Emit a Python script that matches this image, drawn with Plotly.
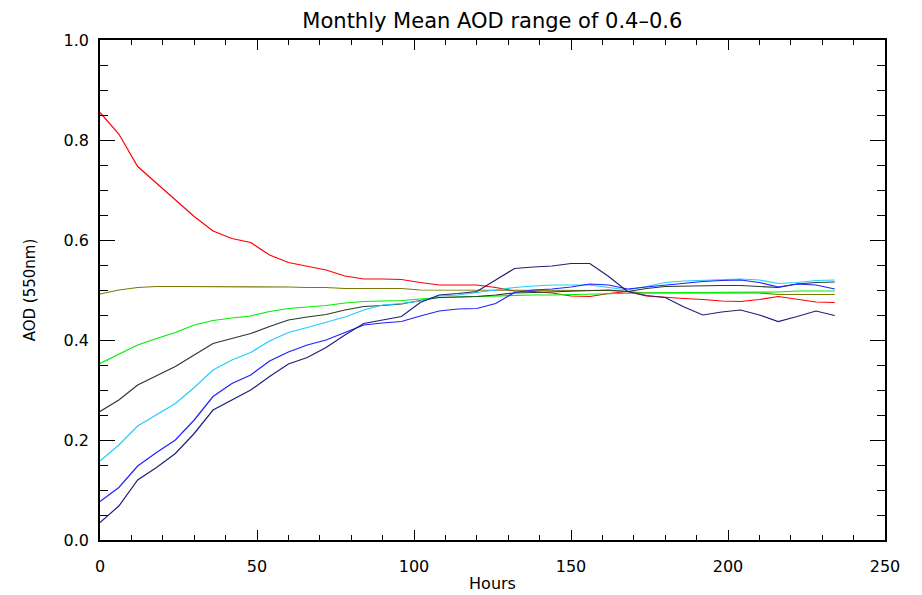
import plotly.graph_objects as go

hours = list(range(0, 240, 6))

red = [0.855, 0.812, 0.747, 0.713, 0.680, 0.647, 0.618, 0.603, 0.595, 0.570,
       0.555, 0.547, 0.540, 0.528, 0.522, 0.522, 0.521, 0.515, 0.510, 0.510,
       0.510, 0.505, 0.498, 0.497, 0.494, 0.488, 0.487, 0.493, 0.497, 0.488,
       0.485, 0.483, 0.481, 0.478, 0.477, 0.481, 0.487, 0.481, 0.476, 0.475]
olive = [0.492, 0.500, 0.505, 0.507, 0.507, 0.507, 0.507, 0.507, 0.507, 0.507,
         0.506, 0.505, 0.505, 0.503, 0.503, 0.503, 0.503, 0.500, 0.500, 0.500,
         0.500, 0.500, 0.499, 0.499, 0.499, 0.499, 0.499, 0.499, 0.497, 0.494,
         0.494, 0.494, 0.494, 0.494, 0.494, 0.494, 0.491, 0.491, 0.491, 0.491]
green = [0.353, 0.372, 0.390, 0.403, 0.415, 0.430, 0.439, 0.444, 0.448, 0.457,
         0.463, 0.466, 0.469, 0.474, 0.477, 0.478, 0.479, 0.482, 0.485, 0.486,
         0.487, 0.488, 0.490, 0.490, 0.490, 0.491, 0.492, 0.493, 0.494, 0.495,
         0.495, 0.495, 0.495, 0.495, 0.495, 0.495, 0.496, 0.498, 0.498, 0.498]
dark = [0.257, 0.280, 0.310, 0.328, 0.347, 0.370, 0.393, 0.403, 0.413, 0.427,
        0.440, 0.446, 0.451, 0.460, 0.467, 0.469, 0.472, 0.479, 0.485, 0.486,
        0.487, 0.490, 0.494, 0.495, 0.496, 0.497, 0.499, 0.500, 0.497, 0.503,
        0.507, 0.508, 0.509, 0.509, 0.509, 0.507, 0.505, 0.512, 0.515, 0.516]
cyan = [0.158, 0.190, 0.228, 0.250, 0.273, 0.305, 0.340, 0.360, 0.375, 0.398,
        0.415, 0.425, 0.435, 0.446, 0.460, 0.470, 0.473, 0.478, 0.488, 0.490,
        0.495, 0.500, 0.505, 0.508, 0.510, 0.510, 0.510, 0.505, 0.500, 0.507,
        0.515, 0.518, 0.519, 0.520, 0.522, 0.520, 0.513, 0.515, 0.519, 0.520]
blue = [0.077, 0.105, 0.148, 0.175, 0.200, 0.240, 0.287, 0.313, 0.330, 0.358,
        0.376, 0.390, 0.400, 0.415, 0.430, 0.434, 0.437, 0.448, 0.458, 0.462,
        0.463, 0.473, 0.495, 0.500, 0.502, 0.506, 0.512, 0.510, 0.502, 0.506,
        0.510, 0.514, 0.517, 0.519, 0.520, 0.515, 0.506, 0.512, 0.510, 0.502]
navy = [0.035, 0.068, 0.120, 0.145, 0.173, 0.213, 0.260, 0.280, 0.300, 0.327,
        0.352, 0.365, 0.385, 0.410, 0.433, 0.440, 0.447, 0.475, 0.490, 0.493,
        0.497, 0.520, 0.543, 0.546, 0.548, 0.553, 0.553, 0.527, 0.497, 0.489,
        0.485, 0.466, 0.450, 0.456, 0.460, 0.450, 0.437, 0.447, 0.458, 0.449]

series = [
    ("red", red, "#ff0000"),
    ("olive", olive, "#7a7a00"),
    ("green", green, "#00ee00"),
    ("dark", dark, "#2a3a2a"),
    ("cyan", cyan, "#22ccff"),
    ("blue", blue, "#2020ff"),
    ("navy", navy, "#20207a"),
]

fig = go.Figure()
for name, vals, col in series:
    fig.add_trace(go.Scatter(x=hours, y=vals, mode="lines", name=name,
                             line=dict(color=col, width=1.2)))

font = "DejaVu Sans"
axis_common = dict(showline=True, linecolor="black", linewidth=1.5, mirror="ticks",
                   showgrid=False, zeroline=False, ticks="inside", tickcolor="black",
                   tickwidth=1.2, automargin=False,
                   tickfont=dict(family=font, size=16, color="black"))

fig.update_xaxes(range=[0, 250], tick0=0, dtick=50, ticklen=10,
                 minor=dict(dtick=10, ticklen=5, ticks="inside", tickcolor="black", tickwidth=1.2),
                 title=dict(text="Hours", font=dict(family=font, size=16, color="black"), standoff=3),
                 ticklabelstandoff=11,
                 **axis_common)
fig.update_yaxes(range=[0, 1.0], tick0=0, dtick=0.2, tickformat=".1f", ticklen=15,
                 minor=dict(dtick=0.05, ticklen=8, ticks="inside", tickcolor="black", tickwidth=1.2),
                 title=dict(text="AOD (550nm)", font=dict(family=font, size=15, color="black"), standoff=24),
                 ticklabelstandoff=6,
                 **axis_common)

fig.update_layout(
    width=922, height=595,
    margin=dict(l=100, r=37, t=40, b=55),
    paper_bgcolor="white", plot_bgcolor="white",
    showlegend=False,
    title=dict(text="Monthly Mean AOD range of 0.4\u20130.6", x=0.534, xanchor="center",
               yref="container", y=0.966, yanchor="middle",
               font=dict(family=font, size=21, color="black")),
)

fig.write_html("out.html")
